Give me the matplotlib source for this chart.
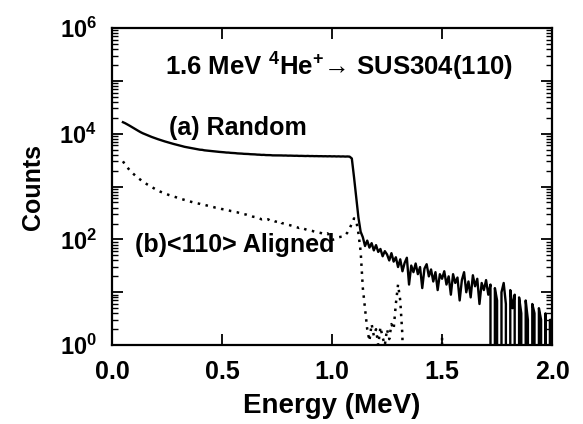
import numpy as np
import matplotlib
matplotlib.use("Agg")
import matplotlib.pyplot as plt
from matplotlib.ticker import FixedLocator, FuncFormatter, LogLocator, NullFormatter

plt.rcParams['font.family'] = ['Liberation Sans', 'DejaVu Sans']
plt.rcParams['font.weight'] = 'bold'
plt.rcParams['mathtext.fontset'] = 'custom'
plt.rcParams['mathtext.rm'] = 'Liberation Sans:bold'
plt.rcParams['mathtext.it'] = 'Liberation Sans:bold'
plt.rcParams['mathtext.bf'] = 'Liberation Sans:bold'

# channel energies (MeV), 0.01 MeV bins
energy = np.linspace(0.05, 2.00, 196)

# (a) random spectrum, counts per channel
randomCounts = [
    16500, 15800, 15000, 14200, 13400, 12600, 11900, 11300, 10700, 10200,
    9800, 9400, 9000, 8700, 8400, 8100, 7850, 7600, 7350, 7150,
    6950, 6750, 6550, 6400, 6250, 6100, 5950, 5800, 5650, 5550,
    5450, 5350, 5250, 5150, 5080, 4980, 4950, 4850, 4800, 4760,
    4690, 4660, 4590, 4570, 4520, 4490, 4450, 4400, 4390, 4340,
    4320, 4290, 4240, 4230, 4200, 4160, 4150, 4130, 4090, 4080,
    4060, 4020, 4010, 3970, 3980, 3940, 3930, 3930, 3890, 3890,
    3900, 3890, 3880, 3860, 3870, 3840, 3850, 3830, 3820, 3830,
    3800, 3810, 3790, 3780, 3800, 3770, 3780, 3760, 3770, 3750,
    3760, 3740, 3750, 3730, 3750, 3720, 3740, 3710, 3730, 3700,
    3720, 3690, 3710, 3680, 3400, 1500, 620, 260, 140, 110,
    75, 95, 70, 85, 62, 78, 58, 66, 48, 60,
    52, 40, 55, 38, 46, 30, 42, 25, 36, 45,
    14, 32, 24, 35, 22, 30, 12, 28, 34, 20,
    27, 16, 24, 11, 22, 18, 25, 14, 20, 9,
    22, 15, 19, 7, 17, 24, 10, 16, 8, 21,
    13, 18, 6, 15, 11, 17, 9, 14, 0, 12,
    7, 0, 10, 15, 6, 0, 11, 5, 9, 0,
    8, 4, 0, 7, 3, 0, 6, 4, 0, 5,
    3, 0, 4, 0, 3, 3,
]

# (b) <110> aligned spectrum
alignedCounts = [
    3000, 2600, 2300, 2050, 1850, 1700, 1560, 1440, 1340, 1250,
    1170, 1100, 1040, 980, 930, 880, 840, 800, 770, 740,
    715, 690, 670, 650, 630, 610, 590, 575, 560, 545,
    530, 515, 500, 490, 480, 470, 455, 450, 440, 430,
    420, 410, 400, 395, 385, 375, 370, 360, 355, 345,
    340, 330, 325, 315, 310, 300, 295, 285, 280, 270,
    265, 255, 250, 240, 245, 235, 240, 225, 230, 220,
    215, 225, 205, 200, 195, 190, 185, 180, 175, 170,
    165, 170, 160, 155, 150, 148, 145, 140, 138, 135,
    132, 128, 125, 130, 115, 98, 100, 105, 110, 112,
    113, 120, 135, 160, 200, 250, 230, 130, 60, 12,
    5, 2, 1.2, 2.5, 1.5, 2, 1, 2.2, 1.4, 1,
    2, 1.3, 2.5, 2, 6, 14, 7, 1.5, 0, 0,
    0, 0, 0, 0, 0, 0, 0, 0, 0, 0,
    0, 0, 0, 0, 0, 1.4, 0, 0, 0, 0,
    0, 0, 0, 0, 0, 0, 0, 0, 0, 0,
    0, 0, 0, 0, 0, 0, 0, 0, 0, 0,
    0, 0, 0, 0, 0, 0, 0, 0, 0, 0,
    0, 0, 0, 0, 0, 0, 0, 0, 0, 0,
    0, 0, 0, 0, 0, 0,
]

xTicks = [0.0, 0.5, 1.0, 1.5, 2.0]
yDecades = [0, 1, 2, 3, 4, 5, 6]
yLabelled = [0, 2, 4, 6]

fig = plt.figure(figsize=(5.83, 4.24), dpi=100)
ax = fig.add_axes([0.192, 0.186, 0.755, 0.748])

ax.plot(energy, randomCounts, color='black', lw=1.7)
ax.plot(energy, alignedCounts, color='black', lw=1.8, linestyle=(0, (1, 2.2)))

ax.set_yscale('log')
ax.set_xlim(0, 2.0)
ax.set_ylim(1, 1e6)

ax.xaxis.set_major_locator(FixedLocator(xTicks))
ax.set_xticklabels(['%.1f' % t for t in xTicks])
ax.yaxis.set_major_locator(FixedLocator([10.0 ** d for d in yDecades]))
ax.yaxis.set_major_formatter(FuncFormatter(
    lambda v, pos: r'$\mathbf{10^{%d}}$' % round(np.log10(v)) if round(np.log10(v)) in yLabelled else ''))
ax.yaxis.set_minor_locator(LogLocator(base=10, subs=np.arange(2, 10), numticks=20))
ax.yaxis.set_minor_formatter(NullFormatter())

ax.tick_params(which='both', direction='in', top=True, right=True, width=1.3)
ax.tick_params(which='major', length=8)
ax.tick_params(which='minor', length=4, width=1.0)
ax.tick_params(axis='x', labelsize=18, pad=11)
ax.tick_params(axis='y', labelsize=17, pad=11)
for s in ax.spines.values():
    s.set_linewidth(1.6)

ax.set_xlabel('Energy (MeV)', fontsize=20, fontweight='bold', labelpad=6)
ax.set_ylabel('Counts', fontsize=18, fontweight='bold', labelpad=10)

ax.text(0.24, 10 ** 5.27, r'1.6 MeV $^{4}$He$^{+}$→ SUS304(110)', fontsize=18.5, fontweight='bold', va='center')
ax.text(0.26, 10 ** 4.11, '(a) Random', fontsize=18, fontweight='bold', va='center')
ax.text(0.105, 10 ** 1.89, '(b)<110> Aligned', fontsize=18, fontweight='bold', va='center')

fig.savefig('out.png', dpi=100)
